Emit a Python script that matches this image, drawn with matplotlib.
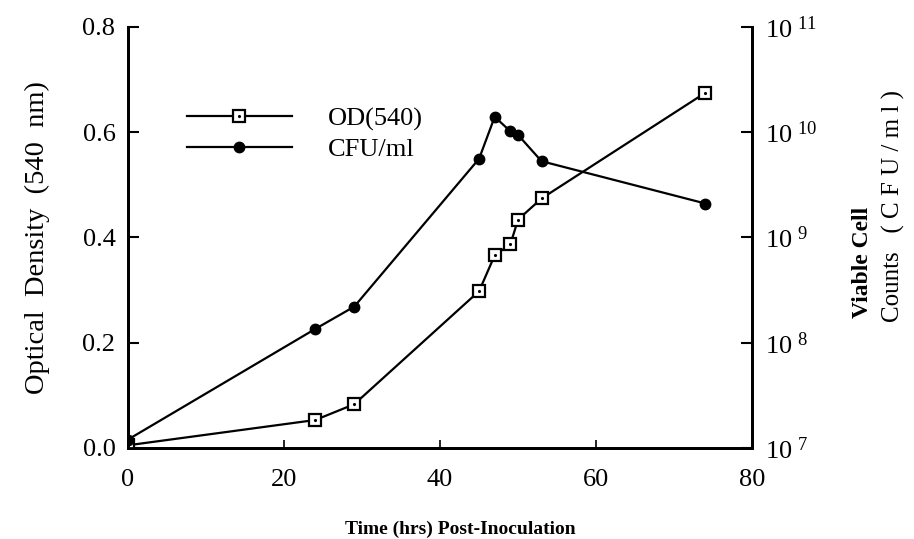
import matplotlib
matplotlib.use("Agg")
import matplotlib.pyplot as plt
from matplotlib.legend_handler import HandlerTuple

plt.rcParams['font.family'] = ['Liberation Serif', 'DejaVu Serif']

# time after inoculation (hrs)
hours = [0, 24, 29, 45, 47, 49, 50, 53, 74]
# optical density at 540 nm
od540 = [0.005, 0.053, 0.083, 0.298, 0.366, 0.387, 0.434, 0.474, 0.675]
# viable counts (CFU/ml)
cfu = [1.2e7, 1.35e8, 2.2e8, 5.6e9, 1.4e10, 1.02e10, 9.4e9, 5.3e9, 2.1e9]

x_ticks = [0, 20, 40, 60, 80]
od_ticks = [0.0, 0.2, 0.4, 0.6, 0.8]
cfu_ticks = [1e7, 1e8, 1e9, 1e10, 1e11]
cfu_labels = [r'$\mathregular{10^{\ 7}}$', r'$\mathregular{10^{\ 8}}$',
              r'$\mathregular{10^{\ 9}}$', r'$\mathregular{10^{\ 10}}$',
              r'$\mathregular{10^{\ 11}}$']

fig = plt.figure(figsize=(9.14, 5.39), dpi=100)
ax = fig.add_axes([0.140, 0.169, 0.683, 0.781])
ax2 = ax.twinx()

# OD curve: open squares with a dot inside
od_line, = ax.plot(hours, od540, color='black', lw=1.6, marker='s', ms=8.5,
                   mfc='white', mec='black', mew=1.6, zorder=3)
od_dot, = ax.plot(hours, od540, ls='none', marker='.', ms=2.5, color='black',
                  zorder=4)

# CFU curve on log scale
cfu_line, = ax2.plot(hours, cfu, color='black', lw=1.6, marker='o', ms=7.5,
                     mfc='black', mec='black')

ax.set_xlim(0, 80)
ax.set_ylim(0, 0.8)
ax2.set_yscale('log')
ax2.set_ylim(1e7, 1e11)

ax.set_xticks(x_ticks)
ax.set_xticklabels([str(t) for t in x_ticks])
ax.set_yticks(od_ticks)
ax.set_yticklabels(['%.1f' % v for v in od_ticks])
ax2.set_yticks(cfu_ticks)
ax2.set_yticklabels(cfu_labels)
ax2.minorticks_off()

for a in (ax, ax2):
    a.spines['top'].set_visible(False)
    for s in ('left', 'bottom', 'right'):
        a.spines[s].set_linewidth(2.0)
ax.tick_params(axis='y', direction='in', length=8, width=1.5, pad=9,
               labelsize=19)
ax.tick_params(axis='x', direction='in', length=6, width=1.2, pad=15,
               labelsize=19)
ax2.tick_params(axis='y', direction='in', length=8, width=1.5, pad=9,
                labelsize=19)

ax.set_xlabel('Time (hrs) Post-Inoculation', fontsize=14, fontweight='bold')
ax.xaxis.set_label_coords(0.532, -0.172)

fig.text(37 / 914, 1 - 238 / 539, 'Optical  Density  (540  nm)', rotation=90,
         ha='center', va='center', fontsize=20.5)
fig.text(863 / 914, 1 - 262 / 539, 'Viable Cell', rotation=90,
         ha='center', va='center', fontsize=17, fontweight='bold')
fig.text(893 / 914, 1 - 206 / 539, 'Counts   ( C F U / m l )', rotation=90,
         ha='center', va='center', fontsize=18)

ax2.legend([(od_line, od_dot), cfu_line], ['OD(540)', 'CFU/ml'],
           handler_map={tuple: HandlerTuple(ndivide=1)},
           loc='upper left', bbox_to_anchor=(0.094, 0.81), frameon=False,
           fontsize=19, handlelength=4.0, handletextpad=1.36,
           labelspacing=0.27, borderpad=0, borderaxespad=0)

fig.savefig('out.png', dpi=100)
